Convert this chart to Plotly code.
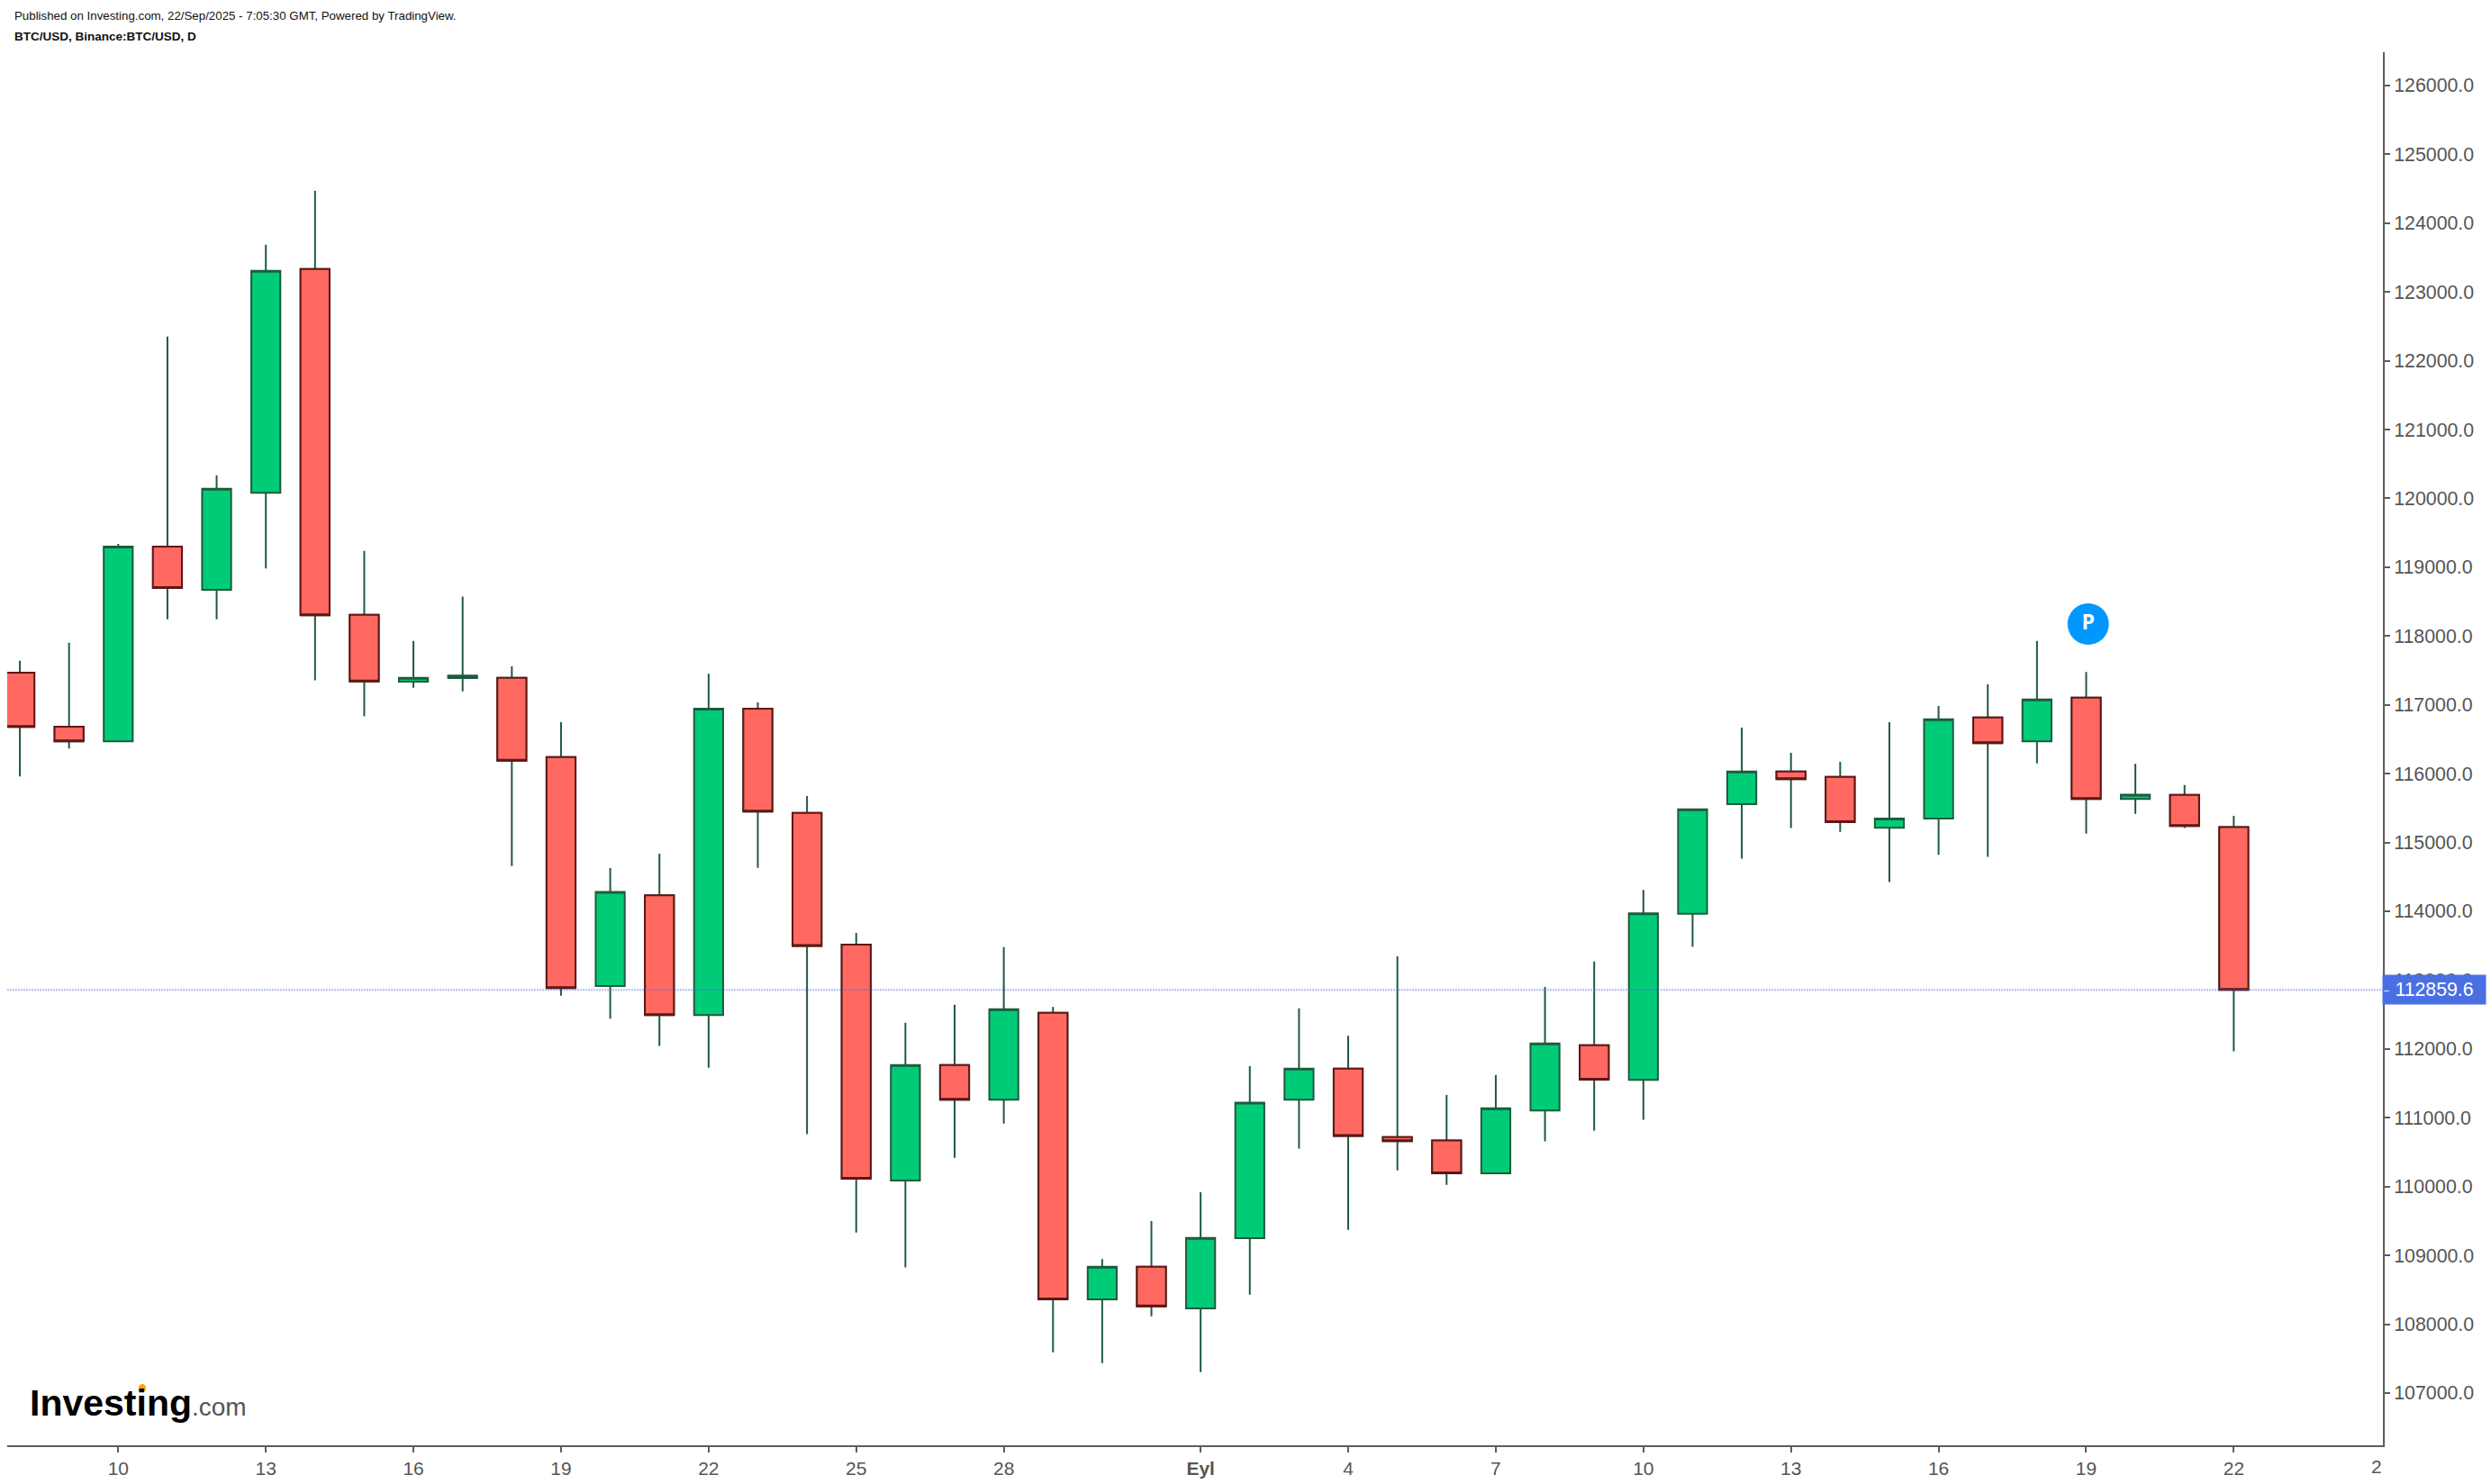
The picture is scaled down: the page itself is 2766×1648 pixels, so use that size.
import plotly.graph_objects as go

# 日線資料 2025-08-08 ~ 2025-09-22
dates = [
    "2025-08-08", "2025-08-09", "2025-08-10", "2025-08-11", "2025-08-12", "2025-08-13",
    "2025-08-14", "2025-08-15", "2025-08-16", "2025-08-17", "2025-08-18", "2025-08-19",
    "2025-08-20", "2025-08-21", "2025-08-22", "2025-08-23", "2025-08-24", "2025-08-25",
    "2025-08-26", "2025-08-27", "2025-08-28", "2025-08-29", "2025-08-30", "2025-08-31",
    "2025-09-01", "2025-09-02", "2025-09-03", "2025-09-04", "2025-09-05", "2025-09-06",
    "2025-09-07", "2025-09-08", "2025-09-09", "2025-09-10", "2025-09-11", "2025-09-12",
    "2025-09-13", "2025-09-14", "2025-09-15", "2025-09-16", "2025-09-17", "2025-09-18",
    "2025-09-19", "2025-09-20", "2025-09-21", "2025-09-22",
]
opens = [
    117469, 116684, 116470, 119301, 118671, 120081, 123333, 118308, 117336, 117389, 117394, 116240,
    112913, 114232, 112491, 116945, 115428, 113516, 110088, 111765, 111263, 112523, 108361, 108834,
    108230, 109249, 111263, 111714, 110718, 110669, 110191, 111106, 112052, 111551, 113965, 115557,
    116032, 115952, 115215, 115348, 116817, 116470, 117105, 115631, 115690, 115222,
]
highs = [
    117640, 117902, 119338, 122351, 120332, 123686, 124471, 119237, 117928, 118575, 117560, 116748,
    114627, 114836, 117453, 117036, 115674, 113687, 112379, 112641, 113479, 112611, 108947, 109497,
    109916, 111750, 112589, 112192, 113346, 111331, 111620, 112900, 113269, 114312, 115482, 116668,
    116304, 116171, 116748, 116983, 117298, 117928, 117479, 116144, 115834, 115387,
]
lows = [
    115958, 116364, 116465, 118243, 118243, 118981, 117357, 116833, 117250, 117197, 114659, 112774,
    112438, 112042, 111727, 114633, 110761, 109332, 108824, 110419, 110915, 107590, 107433, 108113,
    107302, 108429, 110551, 109371, 110236, 110024, 110191, 110655, 110813, 110969, 113484, 114766,
    115209, 115156, 114424, 114820, 114793, 116149, 115129, 115418, 115209, 111964,
]
closes = [
    116679, 116470, 119301, 118697, 120140, 123307, 118302, 117341, 117394, 117426, 116187, 112886,
    114280, 112491, 116945, 115450, 113495, 110114, 111765, 111263, 112576, 108361, 108834, 108257,
    109253, 111218, 111714, 110736, 110660, 110191, 111137, 112079, 111552, 113970, 115482, 116032,
    115920, 115295, 115348, 116790, 116443, 117079, 115631, 115695, 115241, 112859.6,
]

x_tick_dates = [
    "2025-08-10", "2025-08-13", "2025-08-16", "2025-08-19", "2025-08-22", "2025-08-25", "2025-08-28",
    "2025-09-01", "2025-09-04", "2025-09-07", "2025-09-10", "2025-09-13", "2025-09-16", "2025-09-19",
    "2025-09-22",
]
x_tick_labels = ["10", "13", "16", "19", "22", "25", "28", "<b>Eyl</b>", "4", "7", "10", "13", "16", "19", "22"]
y_ticks = [107000 + 1000 * i for i in range(20)]
last_price = 112859.6

GREEN = "#00CC77"
RED = "#FF6961"
DARK_GREEN = "#1E5B3E"
DARK_RED = "#5F1616"
TEXT = "#555555"
AXIS = "#5D5D5D"
FONT = "Liberation Sans, Arial, sans-serif"

W, H = 2766, 1648
LEFT, RIGHT, TOP, BOTTOM = 8, 2646, 58, 1605


def px(x):
    return (x - LEFT) / (RIGHT - LEFT)


def py(y):
    return (BOTTOM - y) / (BOTTOM - TOP)


fig = go.Figure()

# 全部 K 棒：影線都是深綠色
fig.add_trace(go.Candlestick(
    x=dates, open=opens, high=highs, low=lows, close=closes,
    whiskerwidth=0,
    increasing=dict(line=dict(color=DARK_GREEN, width=2), fillcolor=GREEN),
    decreasing=dict(line=dict(color=DARK_GREEN, width=2), fillcolor=RED),
    showlegend=False,
))

# 下跌 K 棒的實體要深紅框，再疊一層
red_idx = [i for i in range(len(dates)) if closes[i] < opens[i]]
fig.add_trace(go.Candlestick(
    x=[dates[i] for i in red_idx],
    open=[opens[i] for i in red_idx],
    high=[opens[i] for i in red_idx],
    low=[closes[i] for i in red_idx],
    close=[closes[i] for i in red_idx],
    whiskerwidth=0,
    increasing=dict(line=dict(color=DARK_RED, width=2), fillcolor=RED),
    decreasing=dict(line=dict(color=DARK_RED, width=2), fillcolor=RED),
    showlegend=False,
))

# P 標記
fig.add_trace(go.Scatter(
    x=["2025-09-19 01:00"], y=[118175],
    mode="markers+text",
    marker=dict(size=46, color="#0098FF", line=dict(width=0)),
    text=["<b>P</b>"], textposition="middle center",
    textfont=dict(family="Open Sans, sans-serif", size=23, color="white"),
    showlegend=False,
))

annotations = [
    dict(text="Published on Investing.com, 22/Sep/2025 - 7:05:30 GMT, Powered by TradingView.",
         x=px(14), y=py(17), font=dict(size=13.3, color="#111111", family=FONT)),
    dict(text="<b>BTC/USD, Binance:BTC/USD, D</b>",
         x=px(14), y=py(40), font=dict(size=13.5, color="#111111", family=FONT)),
    dict(text="<b>Investing</b>", x=px(31), y=py(1558), font=dict(size=41, color="#000000", family=FONT)),
    dict(text=".com", x=px(211), y=py(1562), font=dict(size=28, color="#555555", family=FONT)),
    dict(text="2", x=px(2631), y=py(1628), font=dict(size=21, color=TEXT, family=FONT)),
]
layout_annotations = [dict(a, xref="paper", yref="paper", xanchor="left", yanchor="middle", showarrow=False)
                      for a in annotations]

# 現價標籤
layout_annotations.append(dict(
    text="112859.6", xref="paper", yref="y", x=px(2645), y=last_price, xanchor="left", yanchor="middle",
    showarrow=False, width=114, height=32, bgcolor="#4A6FE3", borderpad=0, align="center",
    font=dict(size=21.3, color="white", family=FONT),
))
layout_annotations.append(dict(
    text="–", xref="paper", yref="y", x=px(2646), y=last_price, xanchor="left", yanchor="middle",
    showarrow=False, borderpad=0, font=dict(size=10, color="white", family=FONT),
))

fig.update_layout(
    width=W, height=H, autosize=False,
    margin=dict(l=LEFT, r=W - RIGHT, t=TOP, b=H - BOTTOM, pad=0, autoexpand=False),
    paper_bgcolor="white", plot_bgcolor="white",
    showlegend=False, boxgap=0.41, boxgroupgap=0,
    annotations=layout_annotations,
    shapes=[dict(type="circle", xref="paper", yref="paper",
                 x0=px(154), x1=px(162), y0=py(1546), y1=py(1537),
                 fillcolor="#FFA500", line=dict(width=0))],
    xaxis=dict(
        type="date", range=["2025-08-07 17:50", "2025-09-25 00:46"],
        rangeslider=dict(visible=False),
        tickmode="array", tickvals=x_tick_dates, ticktext=x_tick_labels,
        ticks="outside", ticklen=6, tickwidth=1.5, tickcolor=AXIS,
        showline=True, linecolor=AXIS, linewidth=2, showgrid=False, zeroline=False,
        tickfont=dict(size=21, color=TEXT, family=FONT),
    ),
    yaxis=dict(
        side="right", range=[106240, 126484],
        tickmode="array", tickvals=y_ticks, ticktext=[f"{v}.0" for v in y_ticks],
        ticks="outside", ticklen=6, tickwidth=2, tickcolor=AXIS,
        showline=True, linecolor=AXIS, linewidth=2, showgrid=False, zeroline=False,
        tickfont=dict(size=21.3, color=TEXT, family=FONT),
    ),
)

fig.add_hline(y=last_price, line=dict(color="rgba(66,103,230,0.42)", width=2, dash="2px,1px"), layer="above")

fig.write_html("out.html", config={"displayModeBar": False}, post_script="document.body.style.margin = '0';")
